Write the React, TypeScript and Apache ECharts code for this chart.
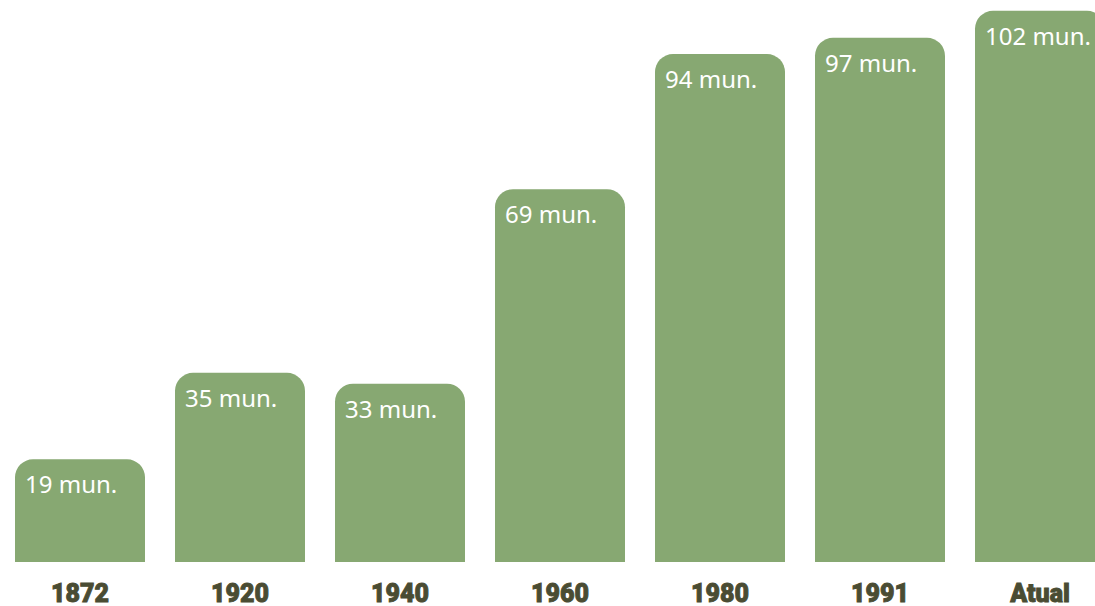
import React, { useEffect, useRef } from "react";
import * as echarts from "echarts";

const categories = ["1872", "1920", "1940", "1960", "1980", "1991", "Atual"];
const values = [19, 35, 33, 69, 94, 97, 102];
const valueLabels = ["19 mun.", "35 mun.", "33 mun.", "69 mun.", "94 mun.", "97 mun.", "102 mun."];

export default function App() {
  const ref = useRef<HTMLDivElement>(null);
  useEffect(() => {
    document.body.style.margin = "0";
    const chart = echarts.init(ref.current!, null, { renderer: "svg" });
    chart.setOption({
      animation: false,
      backgroundColor: "#ffffff",
      grid: { left: 0, right: 0, top: 0, height: 562, containLabel: false },
      xAxis: {
        type: "category",
        data: categories,
        axisLine: { show: false },
        axisTick: { show: false },
        axisLabel: {
          color: "#4a4c33",
          fontFamily: "Roboto",
          fontWeight: 900,
          fontSize: 25,
          lineHeight: 24,
          margin: 19,
          textBorderColor: "#4a4c33",
          textBorderWidth: 0.9,
        },
      },
      yAxis: {
        type: "value",
        min: 0,
        max: 104,
        show: false,
        splitLine: { show: false },
      },
      series: [
        {
          type: "bar",
          data: values,
          barWidth: 130,
          clip: false,
          itemStyle: { color: "#87a872", borderRadius: [18, 18, 0, 0] },
          label: {
            show: true,
            position: [10, 12],
            align: "left",
            verticalAlign: "top",
            color: "#ffffff",
            fontFamily: "Noto Sans",
            fontSize: 24,
            lineHeight: 25,
            fontWeight: 400,
            formatter: (p: any) => valueLabels[p.dataIndex],
          },
        },
      ],
    });
    return () => chart.dispose();
  }, []);
  return (
    <div style={{ width: 1095, height: 606, overflow: "hidden", position: "relative" }}>
      <div ref={ref} style={{ width: 1120, height: 606 }} />
    </div>
  );
}
